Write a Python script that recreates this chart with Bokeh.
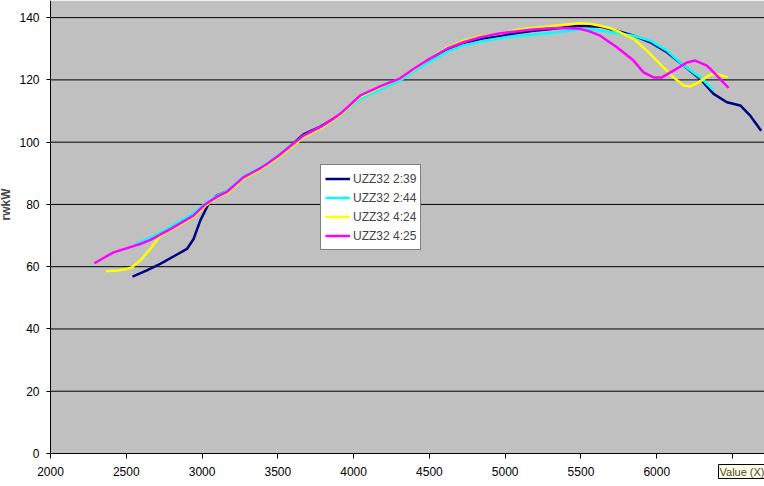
import numpy as np
from bokeh.plotting import figure
from bokeh.models import Range1d, FixedTicker, Legend, LegendItem, Label, BoxAnnotation
from bokeh.embed import file_html
from bokeh.resources import INLINE

# ---- data ----
names = ["UZZ32 2:39", "UZZ32 2:44", "UZZ32 4:24", "UZZ32 4:25"]
colors = ["#000080", "#00FFFF", "#FFFF00", "#FF00FF"]

rpm_239 = [2541, 2636, 2724, 2823, 2900, 2944, 2988, 3043, 3098, 3164, 3273, 3384, 3500, 3560,
           3669, 3780, 3912, 4044, 4175, 4307, 4395, 4500, 4615, 4720, 4836, 4967, 5055, 5187,
           5275, 5400, 5495, 5627, 5737, 5847, 5957, 6067, 6177, 6287, 6375, 6463, 6551, 6617, 6689]
kw_239 = [56.8, 58.8, 60.9, 63.6, 65.7, 68.9, 74.8, 80.2, 82.9, 84.2, 88.6, 91.4, 95.3, 97.8,
          102.5, 105.0, 108.8, 114.6, 117.5, 120.3, 123.2, 126.6, 129.8, 131.8, 133.1, 134.2, 134.9, 135.8,
          136.2, 136.9, 137.4, 137.1, 135.8, 134.2, 132.1, 128.9, 124.6, 120.3, 115.5, 112.8, 111.8, 108.5, 103.7]

rpm_244 = [2560, 2592, 2680, 2768, 2860, 2944, 3020, 3100, 3164, 3273, 3384, 3500, 3560, 3669,
           3780, 3912, 4044, 4175, 4307, 4395, 4500, 4615, 4720, 4836, 4967, 5100, 5253, 5350,
           5473, 5580, 5693, 5847, 5957, 6067, 6177, 6287, 6375]
kw_244 = [67.2, 67.9, 69.8, 72.0, 74.7, 77.2, 80.3, 82.8, 84.3, 88.9, 91.8, 95.6, 98.0, 102.0,
          104.8, 108.6, 114.0, 116.8, 119.8, 122.6, 125.8, 129.0, 131.0, 132.3, 133.4, 134.2, 134.8, 135.4,
          136.1, 136.2, 135.3, 134.2, 132.6, 129.4, 124.6, 120.8, 116.6]

rpm_424 = [2366, 2438, 2500, 2537, 2592, 2658, 2724, 2790, 2870, 2943, 3020, 3100, 3164, 3273,
           3384, 3500, 3560, 3669, 3780, 3912, 4044, 4175, 4307, 4395, 4500, 4615, 4720, 4836,
           4967, 5100, 5231, 5400, 5495, 5560, 5627, 5700, 5759, 5847, 5935, 6023, 6111, 6177,
           6221, 6276, 6353, 6408, 6469]
kw_424 = [58.5, 58.8, 59.2, 59.8, 62.0, 65.7, 70.0, 71.8, 74.0, 76.0, 79.5, 82.3, 83.6, 88.3,
          91.2, 95.0, 97.3, 101.6, 104.4, 108.7, 114.6, 117.6, 120.5, 123.3, 126.8, 130.3, 132.5, 134.0,
          134.8, 136.3, 136.9, 137.8, 138.2, 138.0, 137.4, 136.5, 135.3, 133.2, 129.4, 125.1, 120.8, 118.2,
          117.9, 119.2, 121.7, 121.7, 120.8]

rpm_425 = [2290, 2350, 2416, 2500, 2592, 2660, 2724, 2800, 2870, 2943, 3020, 3100, 3164, 3273,
           3384, 3428, 3500, 3560, 3669, 3780, 3850, 3912, 4044, 4175, 4307, 4395, 4500, 4615,
           4720, 4836, 4950, 5055, 5165, 5275, 5400, 5495, 5560, 5627, 5737, 5847, 5913, 5979,
           6034, 6111, 6199, 6254, 6331, 6397, 6474]
kw_425 = [61.1, 62.8, 64.6, 65.9, 67.3, 68.6, 70.3, 72.3, 74.3, 76.4, 80.0, 82.5, 84.0, 88.7,
          91.6, 93.0, 95.5, 97.8, 102.1, 104.8, 107.0, 109.1, 115.0, 117.9, 120.5, 123.5, 126.8, 130.0,
          132.0, 133.7, 134.8, 135.5, 136.1, 136.5, 136.7, 136.4, 135.5, 134.2, 130.5, 126.2, 122.4, 120.8,
          120.8, 123.0, 125.6, 126.2, 124.6, 121.4, 117.4]

x_ticks = [2000, 2500, 3000, 3500, 4000, 4500, 5000, 5500, 6000, 6500]
y_ticks = [0, 20, 40, 60, 80, 100, 120, 140]
y_title = "rwkW"
tip_text = "Value (X)"

# axis extents (plot area) and full-canvas view ranges
X_MIN, X_MAX = 2000, 6711
Y_MIN, Y_MAX = 0, 145.5
VIEW_X = (1670, 6711)
VIEW_Y = (-10.6, 145.5)

FONT = "Liberation Sans"

p = figure(width=764, height=486, output_backend="svg", toolbar_location=None,
           x_range=Range1d(*VIEW_X), y_range=Range1d(*VIEW_Y),
           min_border_left=0, min_border_right=0, min_border_top=0, min_border_bottom=0)
p.background_fill_color = "white"
p.border_fill_color = "white"
p.outline_line_color = None
p.xgrid.visible = False
p.ygrid.visible = False

# grey plot area
p.add_layout(BoxAnnotation(left=X_MIN, bottom=Y_MIN, fill_color="#C0C0C0", fill_alpha=1,
                           line_color=None, level="underlay"))

# horizontal gridlines from the tick list
grid_y = [t for t in y_ticks if t > 0]
p.segment(x0=[X_MIN] * len(grid_y), x1=[X_MAX] * len(grid_y), y0=grid_y, y1=grid_y,
          line_color="black", line_width=1)

for ax, ticks in ((p.xaxis, x_ticks), (p.yaxis, y_ticks)):
    ax.ticker = FixedTicker(ticks=ticks)
    ax.axis_line_color = "black"
    ax.major_tick_line_color = "black"
    ax.minor_tick_line_color = None
    ax.major_tick_in = 0
    ax.major_label_text_font = FONT
    ax.major_label_text_font_size = "12px"
    ax.major_label_text_color = "black"
p.xaxis.fixed_location = Y_MIN
p.yaxis.fixed_location = X_MIN
p.xaxis.bounds = (X_MIN, X_MAX)
p.yaxis.bounds = (Y_MIN, Y_MAX)
p.xaxis.major_tick_out = 5
p.xaxis.major_label_standoff = 9
p.yaxis.major_tick_out = 4
p.yaxis.major_label_standoff = 7

series = [(rpm_239, kw_239), (rpm_244, kw_244), (rpm_424, kw_424), (rpm_425, kw_425)]
renderers = []
for (xs, ys), c in zip(series, colors):
    r = p.line(xs, ys, line_color=c, line_width=2.5, line_join="round")
    renderers.append(r)

legend = Legend(items=[LegendItem(label=n, renderers=[r]) for n, r in zip(names, renderers)],
                location=(320, 236))
legend.background_fill_color = "white"
legend.background_fill_alpha = 1
legend.border_line_color = "black"
legend.border_line_width = 1
legend.label_text_font = FONT
legend.label_text_font_size = "12px"
legend.glyph_width = 25
legend.glyph_height = 19
legend.label_height = 19
legend.spacing = 0
legend.padding = 4
legend.margin = 0
legend.label_standoff = 3
p.add_layout(legend, "center")

p.add_layout(Label(x=5, y=282, x_units="screen", y_units="screen", text=y_title,
                   angle=np.pi / 2, text_font=FONT, text_font_size="12px",
                   text_font_style="bold", text_align="center", text_baseline="middle"))

p.add_layout(Label(x=718, y=8, x_units="screen", y_units="screen", text=tip_text,
                   text_font=FONT, text_font_size="11px", text_baseline="bottom",
                   background_fill_color="#FFFFE1", border_line_color="black", padding=1))

open("out.html", "w").write(file_html(p, INLINE))
